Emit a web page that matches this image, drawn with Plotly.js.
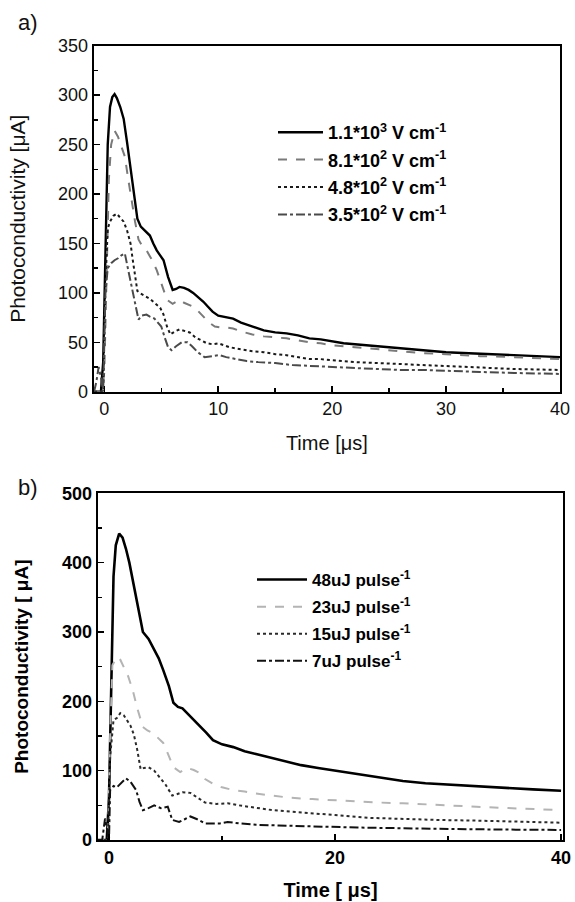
<!DOCTYPE html>
<html>
<head>
<meta charset="utf-8">
<script src="https://cdn.plot.ly/plotly-3.0.1.min.js"></script>
<style>html,body{margin:0;padding:0;background:#fff;}#chart{width:575px;height:902px;}</style>
</head>
<body>
<div id="chart"></div>
<script>
// ---------- Panel a: photoconductivity vs time for different fields ----------
const legendA = ['1.1*10<sup>3</sup> V cm<sup>-1</sup>', '8.1*10<sup>2</sup> V cm<sup>-1</sup>', '4.8*10<sup>2</sup> V cm<sup>-1</sup>', '3.5*10<sup>2</sup> V cm<sup>-1</sup>'];
const tA1 = [-0.9,-0.3,-0.1,0.1,0.3,0.5,0.7,0.9,1.1,1.4,1.7,2.0,2.3,2.6,2.9,3.2,3.6,4.0,4.3,4.6,4.9,5.2,5.6,6.0,6.3,6.6,7.0,7.4,7.8,8.2,8.7,9.1,9.5,10.0,10.4,10.8,11.3,12,13,14,15,16,17,18,19,20,21,22,24,26,28,30,32,34,36,38,40];
const vA1 = [0,0,30,150,250,288,298,301,297,288,276,252,228,200,175,167,163,158,150,143,138,133,116,103,104,106,105,103,100,96,91,86,81,77,76,75,74,70,66,62,60,59,57,54,53,51,49,48,46,44,42,40,39,38,37,36,35];
const tA2 = [-0.9,-0.2,0,0.2,0.4,0.6,0.9,1.2,1.5,1.8,2.1,2.4,2.7,3.0,3.3,3.7,4.1,4.6,5.0,5.5,6.0,6.3,6.6,7.0,7.4,7.8,8.2,8.7,9.2,9.7,10.2,10.7,11.3,12,13,14,15,16,17,18,19,20,22,24,26,28,30,33,36,40];
const vA2 = [0,0,20,130,215,250,264,258,248,238,215,193,172,154,148,143,135,123,110,93,89,91,93,90,88,86,82,76,70,66,65,65,64,61,58,56,55,54,52,50,49,47,45,43,41,39,38,36,35,33];
const tA3 = [-0.9,-0.1,0.1,0.3,0.5,0.8,1.1,1.4,1.7,2.0,2.3,2.5,2.7,2.9,3.1,3.4,3.7,4.0,4.3,4.6,4.9,5.2,5.5,5.8,6.2,6.6,7.0,7.5,8.0,8.5,9.0,9.5,10,10.5,11,12,13,14,15,16,17,18,19,20,22,24,26,28,30,33,36,40];
const vA3 = [0,0,110,165,172,178,180,176,172,163,150,133,115,102,100,98,96,94,91,88,85,78,66,58,61,63,62,60,55,52,49,48,49,47,45,43,41,40,38,37,35,33,33,32,30,29,28,27,26,24,23,22];
const tA4 = [-0.9,-0.7,-0.5,-0.3,-0.1,0.1,0.3,0.6,0.9,1.2,1.5,1.8,2.1,2.4,2.7,3.0,3.3,3.7,4.0,4.4,4.7,5.0,5.3,5.6,5.9,6.3,6.8,7.3,7.7,8.2,8.8,9.4,10.1,10.7,11.5,12.5,13.5,15,16.5,18,20,22,24,26,28,30,33,36,40];
const vA4 = [0,10,25,15,0,100,125,130,133,135,138,140,123,106,88,73,77,78,76,74,70,66,55,45,42,46,50,50,46,40,35,36,37,35,33,31,30,29,27,26,25,24,23,22,22,21,20,19,18];

// ---------- Panel b: photoconductivity vs time for different pulse energies ----------
const legendB = ['48uJ pulse<sup>-1</sup>', '23uJ pulse<sup>-1</sup>', '15uJ pulse<sup>-1</sup>', '7uJ pulse<sup>-1</sup>'];
const tB1 = [-1,-0.2,0,0.2,0.4,0.6,0.9,1.2,1.5,1.8,2.1,2.5,3.0,3.5,3.9,4.4,4.8,5.3,5.7,6.1,6.5,7.0,7.5,8.0,8.6,9.2,10,11,12,13,14,15.5,17,18.5,20,22,24,26,28,30,32.5,35,37.5,40];
const vB1 = [0,0,60,250,380,425,442,436,420,400,375,340,300,290,278,262,245,222,198,192,190,182,173,165,155,144,138,134,128,124,120,115,108,104,100,95,90,85,82,80,77,75,73,71];
const tB2 = [-1,-0.1,0.1,0.3,0.5,0.7,1.0,1.3,1.7,2.1,2.5,3.0,3.4,3.9,4.3,4.8,5.2,5.7,6.3,6.9,7.5,8.0,8.5,9.2,10,11,12,13,14.5,16,18,20,22,24,26,28,30,32.5,35,37.5,40];
const vB2 = [0,0,150,252,258,264,260,250,236,216,190,163,158,154,148,140,125,105,98,104,101,97,88,81,76,72,70,67,64,61,59,57,56,54,53,51,50,48,46,44,43];
const tB3 = [-1,-0.1,0.1,0.4,0.7,1.0,1.3,1.6,1.9,2.2,2.5,2.8,3.1,3.5,4.0,4.6,5.0,5.3,5.6,6.0,6.5,7.2,7.8,8.5,9.5,10.5,11.5,13,14.5,16,18,20,23,26,29,32.5,36,40];
const vB3 = [0,0,120,173,176,183,180,173,165,152,130,102,104,105,100,88,80,72,64,66,69,68,62,54,52,53,50,46,43,41,38,36,32,30,29,28,27,25];
const tB4 = [-1,-0.6,-0.35,-0.15,0,0.1,0.4,0.7,1.1,1.5,1.9,2.4,2.7,3.0,3.5,4.0,4.6,5.2,5.6,6.2,6.7,7.2,7.8,8.5,9.8,10.5,11.5,13,15,17,19.5,22,26,29,32.5,36,40];
const vB4 = [0,0,31,10,0,72,78,76,82,89,84,72,55,43,46,50,46,48,29,26,30,34,30,24,24,26,24,22,21,20,19,18,17,16,15.5,15,14.5];

const xTicksA = [0,10,20,30,40];
const yTicksA = [0,50,100,150,200,250,300,350];
const xTicksB = [0,20,40];
const yTicksB = [0,100,200,300,400,500];

const FONT = 'Liberation Sans, Arial, Helvetica, sans-serif';

function tr(x, y, name, xa, ya, leg, color, dash, width, grp) {
  return {x: x, y: y, name: name, xaxis: xa, yaxis: ya, legend: leg, legendgroup: grp,
    type: 'scatter', mode: 'lines', line: {color: color, dash: dash, width: width}, hoverinfo: 'skip'};
}

const data = [
  tr(tA1, vA1, legendA[0], 'x', 'y', 'legend', '#000000', 'solid', 2.4, 'a1'),
  tr(tA2, vA2, legendA[1], 'x', 'y', 'legend', '#7a7a7a', 'dash', 2, 'a2'),
  tr(tA3, vA3, legendA[2], 'x', 'y', 'legend', '#1a1a1a', 'dot', 2, 'a3'),
  tr(tA4, vA4, legendA[3], 'x', 'y', 'legend', '#4a4a4a', 'dashdot', 2, 'a4'),
  tr(tB1, vB1, legendB[0], 'x2', 'y2', 'legend2', '#000000', 'solid', 2.6, 'b1'),
  tr(tB2, vB2, legendB[1], 'x2', 'y2', 'legend2', '#b4b4b4', 'dash', 2, 'b2'),
  tr(tB3, vB3, legendB[2], 'x2', 'y2', 'legend2', '#2a2a2a', 'dot', 2, 'b3'),
  tr(tB4, vB4, legendB[3], 'x2', 'y2', 'legend2', '#111111', 'dashdot', 2, 'b4')
];

function axis(extra) {
  return Object.assign({
    showline: true, linecolor: '#000', linewidth: 2, mirror: true,
    ticks: 'inside', ticklen: 6, tickwidth: 1.5, tickcolor: '#000',
    showgrid: false, zeroline: false, fixedrange: true
  }, extra);
}

const layout = {
  width: 575, height: 902,
  margin: {l: 0, r: 0, t: 0, b: 0},
  paper_bgcolor: '#fff', plot_bgcolor: '#fff',
  showlegend: true,
  font: {family: FONT, color: '#000'},
  xaxis: axis({domain: [0.1630, 0.9739], anchor: 'y', range: [-0.93, 40],
    tickvals: xTicksA, ticktext: xTicksA.map(String),
    minor: {dtick: 5, tick0: 0, ticks: 'inside', ticklen: 4, tickwidth: 1.5, tickcolor: '#000'},
    tickfont: {family: FONT, size: 18, color: '#111'},
    title: {text: 'Time [μs]', font: {family: FONT, size: 20, color: '#111'}, standoff: 18}}),
  yaxis: axis({domain: [0.5657, 0.9493], anchor: 'x', range: [0, 350],
    tickvals: yTicksA, ticktext: yTicksA.map(String),
    minor: {dtick: 25, tick0: 0, ticks: 'inside', ticklen: 4, tickwidth: 1.5, tickcolor: '#000'},
    tickfont: {family: FONT, size: 18, color: '#111'},
    title: {text: 'Photoconductivity [μA]', font: {family: FONT, size: 21, color: '#111'}, standoff: 27}}),
  xaxis2: axis({domain: [0.1699, 0.9797], anchor: 'y2', range: [-1, 40.2],
    tickvals: xTicksB, ticktext: xTicksB.map(String),
    minor: {dtick: 10, tick0: 0, ticks: 'inside', ticklen: 4, tickwidth: 1.5, tickcolor: '#000'},
    tickfont: {family: FONT, size: 18, color: '#000', weight: 'bold'},
    title: {text: 'Time [ μs]', font: {family: FONT, size: 20, color: '#000', weight: 'bold'}, standoff: 16}}),
  yaxis2: axis({domain: [0.0687, 0.4531], anchor: 'x2', range: [0, 500],
    tickvals: yTicksB, ticktext: yTicksB.map(String),
    minor: {dtick: 50, tick0: 0, ticks: 'inside', ticklen: 4, tickwidth: 1.5, tickcolor: '#000'},
    tickfont: {family: FONT, size: 18, color: '#000', weight: 'bold'},
    title: {text: 'Photoconductivity [ μA]', font: {family: FONT, size: 19, color: '#000', weight: 'bold'}, standoff: 28}}),
  legend: {x: 273 / 575, xanchor: 'left', y: 1 - 114 / 902, yanchor: 'top',
    bgcolor: 'rgba(0,0,0,0)', borderwidth: 0, traceorder: 'grouped', tracegroupgap: 1, itemwidth: 45,
    font: {family: FONT, size: 18, color: '#000', weight: 'bold'}},
  legend2: {x: 252 / 575, xanchor: 'left', y: 1 - 562 / 902, yanchor: 'top',
    bgcolor: 'rgba(0,0,0,0)', borderwidth: 0, traceorder: 'grouped', tracegroupgap: 2, itemwidth: 50,
    font: {family: FONT, size: 17, color: '#000', weight: 'bold'}},
  annotations: [
    {text: 'a)', xref: 'paper', yref: 'paper', x: 28 / 575, y: 1 - 22 / 902, xanchor: 'center', yanchor: 'middle',
      showarrow: false, font: {family: FONT, size: 22, color: '#111'}},
    {text: 'b)', xref: 'paper', yref: 'paper', x: 28 / 575, y: 1 - 487 / 902, xanchor: 'center', yanchor: 'middle',
      showarrow: false, font: {family: FONT, size: 22, color: '#111'}}
  ]
};

Plotly.newPlot('chart', data, layout, {staticPlot: true, displayModeBar: false});
</script>
</body>
</html>
